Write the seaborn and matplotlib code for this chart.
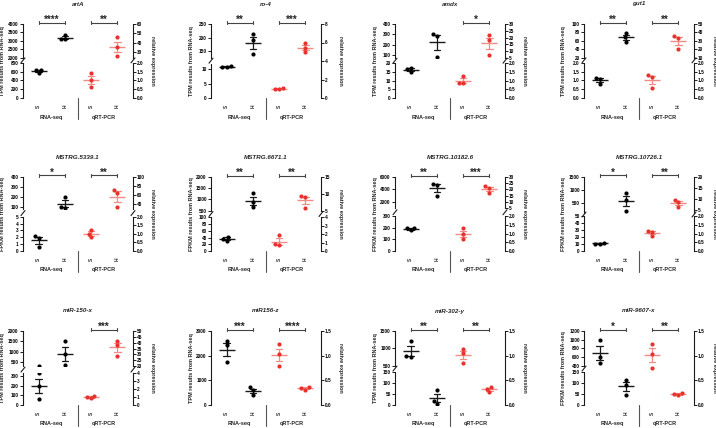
import matplotlib
matplotlib.use("Agg")
import matplotlib.pyplot as plt
from matplotlib.lines import Line2D
from matplotlib.transforms import blended_transform_factory
import pandas as pd
import seaborn as sns

sns.set_theme(style="ticks")
plt.rcParams['font.family'] = ['Liberation Sans', 'DejaVu Sans']
plt.rcParams['font.weight'] = 'bold'

# ---- data ----
genes = ["artA", "ro-4", "amdx", "gut1",
         "MSTRG.5339.1", "MSTRG.6671.1", "MSTRG.10182.6", "MSTRG.10726.1",
         "miR-150-x", "miR156-z", "miR-302-y", "miR-9607-x"]
units = ["TPM"] * 4 + ["FPKM"] * 4 + ["TPM", "TPM", "TPM", "FPKM"]

rnaseq_S = [[640, 650, 565], [10.8, 11.2, 10.8], [17.5, 15.0, 16.5], [1.17, 1.08, 0.81],
            [2.15, 1.85, 0.65], [43, 36, 31], [200, 195, 178], [12, 10.5, 10.6],
            [325, 200, 60], [2590, 2415, 1740], [1200, 760, 770], [1000, 605, 450]]
rnaseq_H = [[3350, 3100, 3120], [212, 191, 139], [300, 287, 77], [79.6, 68, 58.4],
            [202, 100, 93], [1280, 875, 650], [4900, 4700, 2950], [877, 618, 190],
            [1516, 871, 339], [720, 600, 420], [67, 20, 5], [114, 88, 47]]
qpcr_S = [[1.45, 1.03, 0.65], [1.1, 0.95, 1.0], [1.27, 0.88, 0.85], [1.31, 1.19, 0.58],
          [1.25, 1.0, 0.8], [1.88, 0.8, 0.68], [1.33, 0.95, 0.67], [1.14, 1.12, 0.86],
          [0.83, 1.17, 1.04], [1.23, 1.03, 0.79], [1.14, 1.05, 0.86], [1.24, 1.04, 0.75]]
qpcr_H = [[45.7, 35, 25.7], [5.98, 5.43, 4.93], [21.6, 18.1, 7.5], [36.1, 33.8, 19.9],
          [70, 64.6, 31.5], [9.3, 9.1, 5.8], [22.6, 21.3, 17.3], [9.6, 8.4, 6.1],
          [41.4, 37.7, 29.1], [0.36, 0.35, 0.31], [0.37, 0.33, 0.26], [0.20, 0.24, 0.23]]

sig_rnaseq = ["****", "**", "", "**", "*", "**", "**", "*", "", "***", "**", "*"]
sig_qpcr = ["**", "***", "*", "**", "**", "**", "***", "**", "***", "****", "**", "**"]

# axis segments (bottom first): (min, max, ticks)
left_axis = [
    [(0, 800, [0, 200, 400, 600, 800]), (2000, 4000, [2000, 2500, 3000, 3500, 4000])],
    [(0, 12, [0, 5, 10]), (125, 250, [150, 200, 250])],
    [(0, 20, [0, 5, 10, 15, 20]), (70, 400, [100, 200, 300, 400])],
    [(0, 2, [0, 0.5, 1, 1.5, 2]), (20, 100, [20, 40, 60, 80, 100])],
    [(0, 5, [0, 1, 2, 3, 4, 5]), (76, 400, [100, 200, 300, 400])],
    [(0, 100, [0, 20, 40, 60, 80, 100]), (500, 2000, [500, 1000, 1500, 2000])],
    [(0, 300, [0, 100, 200, 300]), (1000, 6000, [2000, 4000, 6000])],
    [(0, 50, [0, 10, 20, 30, 40, 50]), (100, 1500, [500, 1000, 1500])],
    [(0, 330, [0, 100, 200, 300]), (300, 2000, [500, 1000, 1500, 2000])],
    [(0, 3000, [0, 1000, 2000, 3000])],
    [(0, 150, [0, 50, 100, 150]), (500, 1500, [500, 1000, 1500])],
    [(0, 150, [0, 50, 100, 150]), (400, 1200, [400, 600, 800, 1000, 1200])],
]
right_axis = [
    [(0, 2, [0, 0.5, 1, 1.5, 2]), (24, 60, [30, 40, 50, 60])],
    [(0, 8, [0, 2, 4, 6, 8])],
    [(0, 2, [0, 0.5, 1, 1.5, 2]), (5, 30, [5, 10, 15, 20, 25, 30])],
    [(0, 2, [0, 0.5, 1, 1.5, 2]), (10, 50, [10, 20, 30, 40, 50])],
    [(0, 2, [0, 0.5, 1, 1.5, 2]), (27, 100, [40, 60, 80, 100])],
    [(0, 4, [0, 1, 2, 3, 4]), (5, 15, [5, 10, 15])],
    [(0, 2, [0, 0.5, 1, 1.5, 2]), (5, 30, [5, 10, 15, 20, 25, 30])],
    [(0, 2, [0, 0.5, 1, 1.5, 2]), (3.5, 20, [5, 10, 15, 20])],
    [(0, 4, [0, 1, 2, 3, 4]), (20, 50, [20, 25, 30, 35, 40, 45, 50])],
    [(0, 1.5, [0, 0.5, 1, 1.5])],
    [(0, 1.5, [0, 0.5, 1, 1.5])],
    [(0, 1.5, [0, 0.5, 1, 1.5])],
]
# (lower fraction, gap fraction) of the axis height for broken axes
splits = [(0.473, 0.072), (0.466, 0.077), (0.468, 0.072), (0.473, 0.072),
          (0.463, 0.10), (0.455, 0.09), (0.47, 0.108), (0.47, 0.045),
          (0.434, 0.09), None, (0.452, 0.081), (0.452, 0.081)]

# ---- layout ----
W, H = 716, 428
fig = plt.figure(figsize=(W / 100, H / 100), dpi=100)
col_left = [23, 211, 395, 584]
row_top = [24, 177, 331]
pw, ph = 110, 74
RED = "#e8322c"
PINK = "#f28a86"
INK = "#1a1a1a"


def to_fig(x0, y0, w, h):
    return [x0 / W, 1 - (y0 + h) / H, w / W, h / H]


def seg_boxes(x0, y0, n, split):
    if n == 1:
        return [(x0, y0, pw, ph)]
    lf, gf = split
    hl, hg = ph * lf, ph * gf
    return [(x0, y0 + ph - hl, pw, hl), (x0, y0, pw, ph - hl - hg)]


def tick_text(ticks):
    if any(float(t) != int(t) for t in ticks):
        return [f"{t:.1f}" for t in ticks]
    return [f"{int(t)}" for t in ticks]


def style_axis(ax, lo, hi, ticks, side):
    ax.set_xlim(-0.6, 3.6)
    ax.set_ylim(lo, hi)
    ax.set_yticks(ticks)
    ax.set_yticklabels(tick_text(ticks))
    for s in ["top", "bottom", "left", "right"]:
        ax.spines[s].set_visible(s == side)
    ax.spines[side].set_linewidth(0.8)
    ax.spines[side].set_color(INK)
    ax.yaxis.set_ticks_position(side)
    ax.tick_params(axis="y", direction="out", length=2, width=0.7, pad=1,
                   labelsize=3.4, color=INK, labelcolor="black")
    ax.set_xticks([])
    ax.set_xlabel("")
    ax.set_ylabel("")
    ax.patch.set_visible(False)


def draw_group(ax, df, lo, hi, pt_color, line_color):
    # only the points that fall inside this segment, so nothing peeks over the break
    inside = df[(df["y"] >= lo) & (df["y"] <= hi)]
    if len(inside):
        sns.swarmplot(data=inside, x="x", y="y", native_scale=True, orient="x",
                      color=pt_color, size=3, ax=ax, zorder=3)
    sns.pointplot(data=df, x="x", y="y", native_scale=True, orient="x",
                  errorbar="se", color=line_color, marker="_", markersize=11.5,
                  markeredgewidth=1.0, linestyle="none", capsize=0.25,
                  err_kws={"linewidth": 0.9}, ax=ax)


def break_mark(x, yc):
    fig.add_artist(Line2D([(x - 2) / W, (x + 2) / W],
                          [1 - (yc + 2.5) / H, 1 - (yc - 2.5) / H],
                          color=INK, lw=0.8))


for i, gene in enumerate(genes):
    r, c = divmod(i, 4)
    x0, y0 = col_left[c], row_top[r]
    rna = pd.DataFrame({"x": [0] * 3 + [1] * 3, "y": rnaseq_S[i] + rnaseq_H[i]})
    qpc = pd.DataFrame({"x": [2] * 3 + [3] * 3, "y": qpcr_S[i] + qpcr_H[i]})

    left_axes = []
    for (lo, hi, ticks), box in zip(left_axis[i], seg_boxes(x0, y0, len(left_axis[i]), splits[i])):
        ax = fig.add_axes(to_fig(*box))
        draw_group(ax, rna, lo, hi, "black", INK)
        style_axis(ax, lo, hi, ticks, "left")
        left_axes.append(ax)
    for (lo, hi, ticks), box in zip(right_axis[i], seg_boxes(x0, y0, len(right_axis[i]), splits[i])):
        ax = fig.add_axes(to_fig(*box))
        draw_group(ax, qpc, lo, hi, RED, PINK)
        style_axis(ax, lo, hi, ticks, "right")

    # break marks
    if splits[i] is not None:
        yc = y0 + ph - ph * splits[i][0] - ph * splits[i][1] / 2
        if len(left_axis[i]) > 1:
            break_mark(x0, yc)
        if len(right_axis[i]) > 1:
            break_mark(x0 + pw, yc)

    # x labels, divider, group names on the bottom axes
    bot = left_axes[0]
    bh = bot.get_position().height * H
    bot.set_xticks([0, 1, 2, 3])
    bot.set_xticklabels(["S", "H", "S", "H"], rotation=90, fontsize=3.4)
    bot.tick_params(axis="x", length=0, pad=5)
    tr = blended_transform_factory(bot.transData, bot.transAxes)
    bot.plot([1.5, 1.5], [0, -21 / bh], transform=tr, clip_on=False, color="#555555", lw=0.8)
    bot.text(0.5, -19 / bh, "RNA-seq", transform=tr, ha="center", va="center", fontsize=4)
    bot.text(2.5, -19 / bh, "qRT-PCR", transform=tr, ha="center", va="center", fontsize=4)

    # significance brackets on the top axes
    top = left_axes[-1]
    th = top.get_position().height * H
    trt = blended_transform_factory(top.transData, top.transAxes)
    yb = 1 + 1.5 / th
    for (xa, xb), lab in [((0, 1), sig_rnaseq[i]), ((2, 3), sig_qpcr[i])]:
        if not lab:
            continue
        top.plot([xa, xb], [yb, yb], transform=trt, clip_on=False, color="#444444", lw=0.8)
        for xe in (xa, xb):
            top.plot([xe, xe], [yb - 1.5 / th, yb + 1.5 / th], transform=trt,
                     clip_on=False, color="#444444", lw=0.8)
        top.text((xa + xb) / 2, yb - 0.5 / th, lab, transform=trt, ha="center",
                 va="baseline", fontsize=7)

    # titles and axis labels
    fig.text((x0 + pw / 2) / W, 1 - (y0 - 20) / H, gene, ha="center", va="center",
             fontsize=4.5, style="italic")
    fig.text((x0 - 20) / W, 1 - (y0 + ph / 2) / H, f"{units[i]} results from RNA-seq",
             rotation=90, ha="center", va="center", fontsize=4)
    fig.text((x0 + pw + 20) / W, 1 - (y0 + ph / 2) / H, "relative expression",
             rotation=270, ha="center", va="center", fontsize=4)

fig.savefig("out.png", dpi=100)
